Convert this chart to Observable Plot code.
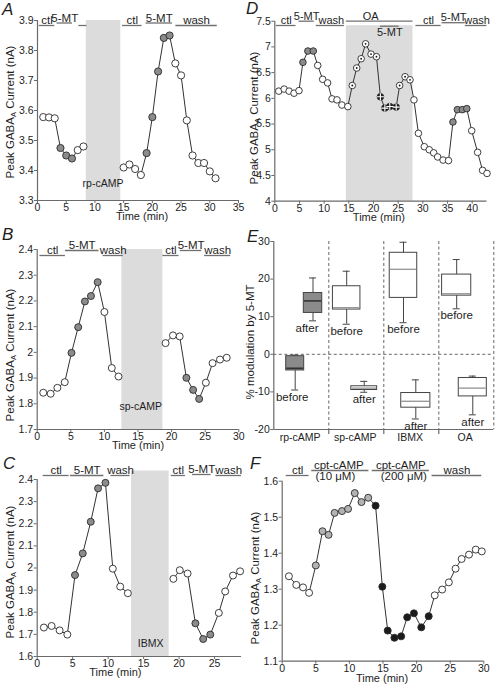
<!DOCTYPE html>
<html><head><meta charset="utf-8">
<script src="https://cdn.jsdelivr.net/npm/d3@7"></script>
<script src="https://cdn.jsdelivr.net/npm/@observablehq/plot@0.6"></script>
<style>
body{margin:0;background:#fff;}
#fig{position:relative;width:495px;height:688px;overflow:hidden;font-family:"Liberation Sans",Arial,Helvetica,sans-serif;}
#fig svg{position:absolute;left:0;top:0;background:transparent;}
</style></head><body><div id="fig"></div>
<script>
// ---------------- DATA ----------------
// Panel A (rp-cAMP)
const aTime = [1,2,3,4,5,6,7,8,15,16,17,18,19,20,21,22,23,24,25,26,27,28,29,30,31];
const aCurrent = [3.578,3.577,3.574,3.475,3.45,3.44,3.468,3.48,3.41,3.42,3.405,3.385,3.458,3.578,3.73,3.842,3.85,3.757,3.717,3.567,3.45,3.425,3.425,3.397,3.374];
const aState = ["o","o","o","g","g","g","o","o","o","o","o","o","g","g","g","g","g","o","o","o","o","o","o","o","o"];
const aBarLabels = ["ctl","5-MT","","ctl","5-MT","wash"];
const aBarStart = [0.3,3.4,7.2,14.8,18.9,24.1];
const aBarEnd = [3.0,6.1,8.6,18.2,23.5,31.3];
const aShade = [8.5,14.5];
const aShadeLabel = "rp-cAMP";
const aXTicks = [0,5,10,15,20,25,30,35];
const aYTicks = [3.3,3.4,3.5,3.6,3.7,3.8,3.9];

// Panel B (sp-cAMP)
const bTime = [0.9,2.0,3.0,4.1,5.1,6.1,7.1,8.0,9.0,10.0,11.1,12.1,19.1,20.2,21.2,22.2,23.2,24.1,25.1,26.1,27.2,28.2];
const bCurrent = [1.843,1.839,1.862,1.884,1.998,2.098,2.198,2.219,2.273,2.157,1.939,1.906,2.036,2.066,2.062,1.901,1.854,1.819,1.882,1.958,1.972,1.979];
const bState = ["o","o","o","o","g","g","g","g","g","o","o","o","o","o","o","g","g","g","o","o","o","o"];
const bBarLabels = ["ctl","5-MT","wash","ctl","5-MT","wash"];
const bBarStart = [0.4,4.2,9.8,18.7,21.3,24.9];
const bBarEnd = [4.2,9.2,12.8,21.1,24.5,28.8];
const bShade = [12.6,18.7];
const bShadeLabel = "sp-cAMP";
const bXTicks = [0,5,10,15,20,25,30];
const bYTicks = [1.7,1.8,1.9,2.0,2.1,2.2,2.3,2.4];

// Panel C (IBMX)
const cTime = [0.94,2.03,3.16,4.25,5.33,6.42,7.55,8.58,9.62,10.66,11.7,12.78,19.2,20.1,21.2,22.3,23.4,24.4,25.6,26.5,27.6,28.6];
const cCurrent = [1.731,1.738,1.718,1.699,1.968,2.066,2.209,2.36,2.385,1.997,1.916,1.886,1.951,1.99,1.975,1.75,1.679,1.699,1.797,1.894,1.966,1.985];
const cState = ["o","o","o","o","g","g","g","g","g","o","o","o","o","o","o","g","g","g","o","o","o","o"];
const cBarLabels = ["ctl","5-MT","wash","ctl","5-MT","wash"];
const cBarStart = [0.85,4.7,10.4,18.9,21.9,25.2];
const cBarEnd = [4.5,9.4,13.1,20.9,24.5,28.8];
const cShade = [13.3,18.6];
const cShadeLabel = "IBMX";
const cXTicks = [0,5,10,15,20,25];
const cYTicks = [1.6,1.7,1.8,1.9,2.0,2.1,2.2,2.3,2.4];

// Panel D (OA)
const dTime = [0.8,1.9,2.9,3.9,4.9,5.7,6.7,7.8,8.7,9.7,10.7,11.6,12.6,13.6,14.8,15.7,16.6,17.5,18.4,19.5,20.6,21.4,22.3,23.3,24.6,25.3,26.4,27.4,28.2,29.1,30.3,31.3,32.2,33.0,34.1,35.2,36.1,37.0,38.0,38.9,39.9,41.1,42.1,43.0];
const dCurrent = [6.14,6.18,6.14,6.10,6.15,6.70,6.92,6.92,6.64,6.37,6.30,5.99,5.97,5.87,5.84,6.25,6.59,6.77,7.06,6.86,6.81,6.03,5.81,5.84,5.83,6.25,6.42,6.36,5.97,5.32,5.06,5.00,4.94,4.86,4.80,4.79,5.54,5.78,5.78,5.80,5.37,4.95,4.60,4.54];
const dState = ["o","o","o","o","o","g","g","g","o","o","o","o","o","o","o","d","d","d","d","d","d","x","x","x","x","d","d","d","o","o","o","o","o","o","o","o","g","g","g","g","o","o","o","o"];
const dBarLabels = ["ctl","5-MT","wash","OA","5-MT","ctl","5-MT","wash"];
const dBarStart = [0.3,4.9,8.4,14.5,21.4,28.6,33.9,38.6];
const dBarEnd = [4.3,8.0,14.1,28.0,25.2,33.7,38.6,43.0];
const dShade = [14.5,28.0];
const dXTicks = [0,5,10,15,20,25,30,35,40];
const dYTicks = [4,4.5,5,5.5,6,6.5,7,7.5];

// Panel E (box plots)
const eCategories = ["rp-cAMP","sp-cAMP","IBMX","OA"];
const eBeforeLow = [-9.5,8.0,8.4,12.1];
const eBeforeQ1 = [-4.3,11.9,15.0,15.6];
const eBeforeMedian = [-3.7,12.4,22.6,16.1];
const eBeforeQ3 = [-0.5,18.1,27.0,21.2];
const eBeforeHigh = [-0.2,22.1,29.8,25.2];
const eAfterLow = [8.9,-10.1,-17.2,-16.1];
const eAfterQ1 = [11.0,-9.5,-14.2,-11.2];
const eAfterMedian = [14.2,-9.0,-12.5,-9.0];
const eAfterQ3 = [16.3,-8.5,-10.3,-6.3];
const eAfterHigh = [20.3,-7.2,-6.8,-5.8];
const eYTicks = [-20,-10,0,10,20,30];

// Panel F (cpt-cAMP)
const fTime = [1.0,2.1,3.1,4.0,5.0,6.0,6.9,7.8,8.9,9.8,10.8,11.8,12.8,13.9,14.9,15.7,16.7,17.7,18.6,19.6,20.7,21.8,22.7,23.8,24.8,25.8,26.7,27.8,28.8,29.7];
const fCurrent = [1.336,1.312,1.305,1.290,1.366,1.461,1.451,1.512,1.517,1.523,1.567,1.542,1.554,1.532,1.307,1.185,1.165,1.169,1.222,1.233,1.194,1.225,1.283,1.299,1.319,1.357,1.384,1.396,1.410,1.405];
const fState = ["o","o","o","o","l","l","l","l","l","l","l","l","l","k","k","k","k","k","k","k","k","k","o","o","o","o","o","o","o","o"];
const fBarLabels = ["ctl","cpt-cAMP","cpt-cAMP","wash"];
const fBarNotes = ["","(10 \u03bcM)","(200 \u03bcM)",""];
const fBarStart = [0.6,4.4,13.4,22.3];
const fBarEnd = [4.0,12.9,21.9,29.7];
const fXTicks = [0,5,10,15,20,25,30];
const fYTicks = [1.1,1.2,1.3,1.4,1.5,1.6];

// ---------------- STYLE / LAYOUT ----------------
const W = 495, H = 688;
const FONT = "'Liberation Sans', Arial, Helvetica, sans-serif";
const AX = "#6a6a6a", TXT = "#1e1e1e", LINE = "#333", SHADE = "#dcdcdc", BAR = "#707070";
const FILLS = {o:"#ffffff", g:"#8b8b8b", d:"#ffffff", x:"#1c1c1c", l:"#b3b3b3", k:"#1c1c1c"};
const fmt = d => String(+d.toFixed(2));

const fig = document.getElementById("fig");
function add(node){ fig.appendChild(node); }

function timePanel(cfg) {
  const f = cfg.frame, xD = cfg.xDomain, yD = cfg.yDomain, L = cfg.layout;
  const ky = (yD[1]-yD[0])/(f.bottom-f.top);
  const kx = (xD[1]-xD[0])/(f.right-f.left);
  const yAt = drop => yD[1] - drop*ky;
  const pts = cfg.time.map((t,i)=>({t, v:cfg.values[i], s:cfg.states[i], fill:FILLS[cfg.states[i]],
    seg: cfg.connect ? 0 : (t < cfg.shade[0] ? 0 : 1)}));
  const bars = cfg.barLabels.map((label,i)=>{
    const mid = (cfg.barStart[i]+cfg.barEnd[i])/2;
    return {label, note: cfg.barNotes ? cfg.barNotes[i] : "",
      x1: cfg.barStart[i], x2: cfg.barEnd[i], y: yAt(L.barDrop[i]),
      lx: mid + ((L.labelDx||[])[i]||0)*kx, nx: mid + ((L.noteDx||[])[i]||0)*kx,
      below: !!((L.below||[])[i])};
  });
  const fs = L.labelSize || 11.5;
  const marks = [];
  if (cfg.shade[1] > cfg.shade[0]) {
    marks.push(Plot.rect([{x1:cfg.shade[0], x2:cfg.shade[1], y1:yD[0], y2:yAt(L.shadeDrop||0)}], {x1:"x1", x2:"x2", y1:"y1", y2:"y2", fill:SHADE}));
  }
  marks.push(
    Plot.ruleX([xD[0]], {stroke:AX, strokeWidth:1.2}),
    Plot.ruleY([yD[0]], {stroke:AX, strokeWidth:1.2}),
    Plot.axisX({ticks:cfg.xTicks, tickSize:3, tickPadding:0, tickFormat:fmt, label:null, stroke:AX, fill:TXT, fontSize:10.5}),
    Plot.axisY({ticks:cfg.yTicks, tickSize:3, tickPadding:1, tickFormat:fmt, label:null, stroke:AX, fill:TXT, fontSize:10.5}),
    Plot.line(pts, {x:"t", y:"v", z:"seg", stroke:LINE, strokeWidth:1}),
    Plot.dot(pts, {x:"t", y:"v", r:L.r||3.5, fill:"fill", stroke:"#2a2a2a", strokeWidth:0.9}),
    Plot.dot(pts.filter(d=>d.s==="d"), {x:"t", y:"v", r:0.9, fill:"#111", stroke:null}),
    Plot.dot(pts.filter(d=>d.s==="x"), {x:"t", y:"v", r:2.4, symbol:"plus", stroke:"#fff", strokeWidth:1.1}),
    Plot.ruleY(bars, {x1:"x1", x2:"x2", y:"y", stroke:BAR, strokeWidth:1.3}),
    Plot.text(bars.filter(b=>b.label && !b.below), {x:"lx", y:"y", text:"label", lineAnchor:"bottom", dy:-1.5, fontSize:fs, fill:TXT}),
    Plot.text(bars.filter(b=>b.label && b.below), {x:"lx", y:"y", text:"label", lineAnchor:"top", dy:2, fontSize:fs, fill:TXT}),
    Plot.text(bars.filter(b=>b.note), {x:"nx", y:"y", text:"note", lineAnchor:"top", dy:1.5, fontSize:fs, fill:TXT}),
    Plot.text(["Time (min)"], {frameAnchor:"bottom", dx:L.titleDx, dy:L.titleDy, fontSize:11, fill:TXT})
  );
  if (cfg.shadeLabel) marks.push(Plot.text([{x:L.shadeLabelAt[0], y:L.shadeLabelAt[1], t:cfg.shadeLabel}], {x:"x", y:"y", text:"t", fontSize:10.5, fill:TXT}));
  return Plot.plot({
    width:W, height:H,
    marginLeft:f.left, marginRight:W-f.right, marginTop:f.top, marginBottom:H-f.bottom,
    x:{domain:xD}, y:{domain:yD}, color:{type:"identity"},
    style:{background:"transparent", fontFamily:FONT, fontSize:"11px", color:TXT},
    marks
  });
}

add(timePanel({
  frame:{left:37, right:238, top:20, bottom:200}, xDomain:[0,35], yDomain:[3.3,3.9],
  time:aTime, values:aCurrent, states:aState, barLabels:aBarLabels, barStart:aBarStart, barEnd:aBarEnd,
  shade:aShade, shadeLabel:aShadeLabel, xTicks:aXTicks, yTicks:aYTicks,
  layout:{barDrop:[5,2.5,5,5,2.5,5], shadeLabelAt:[11.4,3.356], titleDx:4, titleDy:19.5, r:3.6}
}));
add(timePanel({
  frame:{left:36.7, right:238.3, top:249, bottom:429}, xDomain:[0,30], yDomain:[1.7,2.4],
  time:bTime, values:bCurrent, states:bState, barLabels:bBarLabels, barStart:bBarStart, barEnd:bBarEnd,
  shade:bShade, shadeLabel:bShadeLabel, xTicks:bXTicks, yTicks:bYTicks,
  layout:{barDrop:[6,1,6,6,1,6], shadeLabelAt:[15.4,1.79], titleDx:0, titleDy:19.5}
}));
add(timePanel({
  frame:{left:36.7, right:241, top:479, bottom:656}, xDomain:[0,28.8], yDomain:[1.6,2.4],
  time:cTime, values:cCurrent, states:cState, barLabels:cBarLabels, barStart:cBarStart, barEnd:cBarEnd,
  shade:cShade, shadeLabel:cShadeLabel, xTicks:cXTicks, yTicks:cYTicks,
  layout:{barDrop:[-4,-4,-4,-4,-5,-4], shadeDrop:-8.5, shadeLabelAt:[16.0,1.66], titleDx:-24, titleDy:19.5}
}));
add(timePanel({
  frame:{left:274.3, right:486.5, top:20.7, bottom:200.7}, xDomain:[0,43], yDomain:[4,7.5],
  time:dTime, values:dCurrent, states:dState, barLabels:dBarLabels, barStart:dBarStart, barEnd:dBarEnd,
  shade:dShade, connect:true, xTicks:dXTicks, yTicks:dYTicks,
  layout:{barDrop:[4.3,0,4.3,0,5,4.3,1.5,4.3], labelDx:[0,0,1,-9,0,0,0,1], below:[0,0,0,0,1,0,0,0], shadeDrop:4.5, titleDx:-2, titleDy:19.5, r:3.3, labelSize:11}
}));
add(timePanel({
  frame:{left:281.7, right:483.3, top:480.7, bottom:660.7}, xDomain:[0,30], yDomain:[1.1,1.6],
  time:fTime, values:fCurrent, states:fState, barLabels:fBarLabels, barNotes:fBarNotes, barStart:fBarStart, barEnd:fBarEnd,
  shade:[0,0], connect:true, xTicks:fXTicks, yTicks:fYTicks,
  layout:{barDrop:[-5.7,-10.7,-10.7,-5.7], labelDx:[0,-1.5,0,0], noteDx:[0,-5,3,0], titleDx:-1, titleDy:20.5, r:3.5}
}));

// ---------------- PANEL E ----------------
(function(){
  const f = {left:273.3, right:493.3, top:241, bottom:429};
  const ky = 50/(f.bottom-f.top), kx = 4/(f.right-f.left);
  const layout = {
    before:{c:[0.389,1.325,2.358,3.325], w:[0.327,0.50,0.50,0.53], labelDx:[-3,0,0,0]},
    after:{c:[0.713,1.644,2.582,3.618], w:[0.335,0.47,0.53,0.51], labelDx:[-6,0,0,0]}
  };
  const boxFill = ["#8b8b8b","#ffffff","#ffffff","#ffffff"];
  const medStroke = ["#2a2a2a","#9a9a9a","#9a9a9a","#9a9a9a"];
  const boxes = [];
  eCategories.forEach((cat,i)=>{
    [["before",eBeforeLow,eBeforeQ1,eBeforeMedian,eBeforeQ3,eBeforeHigh],
     ["after",eAfterLow,eAfterQ1,eAfterMedian,eAfterQ3,eAfterHigh]].forEach(([ph,lo,q1,md,q3,hi])=>{
      const c = layout[ph].c[i], w = layout[ph].w[i];
      boxes.push({cat, ph, c, x1:c-w/2, x2:c+w/2, cl:c-3.5*kx, cr:c+3.5*kx, lx:c+layout[ph].labelDx[i]*kx,
        lo:lo[i], q1:q1[i], md:md[i], q3:q3[i], hi:hi[i], fill:boxFill[i], ms:medStroke[i]});
    });
  });
  add(Plot.plot({
    width:W, height:H,
    marginLeft:f.left, marginRight:W-f.right, marginTop:f.top, marginBottom:H-f.bottom,
    x:{domain:[0,4], axis:null}, y:{domain:[-20,30]}, color:{type:"identity"},
    style:{background:"transparent", fontFamily:FONT, fontSize:"11px", color:TXT},
    marks:[
      Plot.ruleX([1,2,3,4], {stroke:"#555", strokeDasharray:"3,2.5", strokeWidth:0.9}),
      Plot.ruleY([0], {stroke:"#555", strokeDasharray:"3,2.5", strokeWidth:0.9}),
      Plot.ruleX([0], {stroke:AX, strokeWidth:1.2}),
      Plot.ruleY([-20], {stroke:AX, strokeWidth:1.2}),
      Plot.ruleX([1,2,3], {y1:-20, y2:-20-5*ky, stroke:AX, strokeWidth:1.2}),
      Plot.axisY({ticks:eYTicks, tickSize:3, tickPadding:1, tickFormat:d=>String(d), label:null, stroke:AX, fill:TXT, fontSize:10.5}),
      Plot.ruleX(boxes, {x:"c", y1:"lo", y2:"hi", stroke:"#444", strokeWidth:1}),
      Plot.ruleY(boxes, {y:"hi", x1:"cl", x2:"cr", stroke:"#444", strokeWidth:1}),
      Plot.ruleY(boxes, {y:"lo", x1:"cl", x2:"cr", stroke:"#444", strokeWidth:1}),
      Plot.rect(boxes, {x1:"x1", x2:"x2", y1:"q1", y2:"q3", fill:"fill", stroke:"#444", strokeWidth:1}),
      Plot.ruleY(boxes, {y:"md", x1:"x1", x2:"x2", stroke:"ms", strokeWidth:1.4, insetLeft:0.6, insetRight:0.6}),
      Plot.text(boxes, {x:"lx", y:"lo", text:"ph", lineAnchor:"top", dy:2.5, fontSize:11.5, fill:TXT}),
      Plot.text(eCategories, {x:(d,i)=>i+0.48, y:()=>-20, text:d=>d, dy:8.5, fontSize:10.5, fill:TXT})
    ]
  }));
})();

// ---------------- LETTERS & Y TITLES ----------------
const panelLetters = ["A","B","C","D","E","F"];
const letterAt = [[2,15],[2,240],[3,469],[246,14],[247,242],[250,469]];
const gabaTitleAt = [[9.5,112],[9.5,355],[9.5,572],[254,118],[254.5,578]];
const eTitle = "% modulation by 5-MT";

const ov = d3.create("svg").attr("width",W).attr("height",H)
  .style("font-family",FONT).attr("fill",TXT);
panelLetters.forEach((L,i)=>{
  ov.append("text").attr("x",letterAt[i][0]).attr("y",letterAt[i][1])
    .attr("font-size",17).attr("font-style","italic").text(L);
});
gabaTitleAt.forEach(([x,y])=>{
  const t = ov.append("text").attr("transform",`translate(${x},${y}) rotate(-90)`)
    .attr("text-anchor","middle").attr("dy","0.35em").attr("font-size",11.5);
  t.append("tspan").text("Peak GABA");
  t.append("tspan").attr("font-size",7.5).attr("dy",2).text("A");
  t.append("tspan").attr("dy",-2).text(" Current (nA)");
});
ov.append("text").attr("transform","translate(249.5,342) rotate(-90)")
  .attr("text-anchor","middle").attr("dy","0.35em").attr("font-size",11.5).text(eTitle);
add(ov.node());
</script></body></html>
